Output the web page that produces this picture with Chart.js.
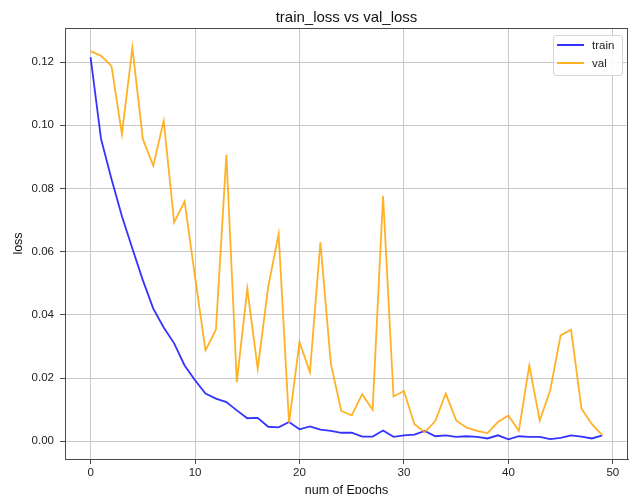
<!DOCTYPE html>
<html>
<head>
<meta charset="utf-8">
<script src="https://cdn.jsdelivr.net/npm/chart.js@4"></script>
<style>
  body { margin: 0; overflow: hidden; background: #fff; font-family: "Liberation Sans", Arial, sans-serif; }
  #wrap { position: relative; width: 630px; height: 500px; }
  #legend { position: absolute; left: 553px; top: 35px; width: 68px; height: 39px;
    border: 1px solid #d6d6d6; border-radius: 3px; background: rgba(255,255,255,0.85);
    font-size: 11.5px; color: #222; }
  #legend .row { position: absolute; left: 0; height: 14px; }
  #legend .sw { position: absolute; left: 3px; top: 6px; width: 27px; height: 2px; }
  #legend .lb { position: absolute; left: 38px; top: 0; line-height: 14px; }
</style>
</head>
<body>
<div id="wrap">
  <canvas id="lossChart"></canvas>
  <div id="legend">
    <div class="row" style="top:2px"><div class="sw" style="background:rgba(0,0,255,0.8)"></div><div class="lb">train</div></div>
    <div class="row" style="top:20px"><div class="sw" style="background:rgba(255,165,0,0.85)"></div><div class="lb">val</div></div>
  </div>
</div>
<script>
document.addEventListener("DOMContentLoaded", function () {

  // data
  const epochs = [0, 1, 2, 3, 4, 5, 6, 7, 8, 9, 10, 11, 12, 13, 14, 15, 16, 17, 18, 19,
    20, 21, 22, 23, 24, 25, 26, 27, 28, 29, 30, 31, 32, 33, 34, 35, 36, 37, 38, 39,
    40, 41, 42, 43, 44, 45, 46, 47, 48, 49];

  const trainLoss = [0.1215, 0.0957, 0.083, 0.0712, 0.061, 0.051, 0.042, 0.036, 0.031, 0.024,
    0.0193, 0.0151, 0.0135, 0.0124, 0.0098, 0.0073, 0.0074, 0.0046, 0.0044, 0.0061,
    0.0038, 0.0047, 0.0037, 0.0033, 0.0027, 0.0027, 0.0015, 0.0015, 0.0034, 0.0014,
    0.0019, 0.0021, 0.0033, 0.0016, 0.0019, 0.0014, 0.0016, 0.0014, 0.0009, 0.0019,
    0.0006, 0.0016, 0.0014, 0.0014, 0.0007, 0.0011, 0.0019, 0.0015, 0.0009, 0.0019];

  const valLoss = [0.1235, 0.122, 0.1188, 0.0972, 0.1246, 0.0957, 0.0872, 0.1014, 0.0693, 0.0759,
    0.052, 0.0288, 0.0353, 0.0907, 0.0187, 0.0483, 0.023, 0.0488, 0.0656, 0.0058,
    0.0314, 0.0219, 0.063, 0.0246, 0.0096, 0.0082, 0.0149, 0.0100, 0.0777, 0.0142,
    0.0159, 0.0054, 0.0029, 0.0064, 0.0151, 0.0066, 0.0043, 0.0033, 0.0026, 0.0061,
    0.0082, 0.0033, 0.024, 0.0066, 0.0161, 0.0335, 0.0353, 0.0103, 0.0054, 0.0019];

  const xTicks = [0, 10, 20, 30, 40, 50];
  const yTicks = [0, 0.02, 0.04, 0.06, 0.08, 0.10, 0.12];

  const gridColor = '#c8c8c8';
  const spineColor = '#4a4a4a';
  const fam = '"Liberation Sans", Arial, sans-serif';
  const tickFont = { family: fam, size: 11.5 };
  const labelFont = { family: fam, size: 12.5 };

  // draws top/right spines like matplotlib
  const frame = {
    id: 'frame',
    afterDraw(chart) {
      const a = chart.chartArea, ctx = chart.ctx;
      ctx.save();
      ctx.strokeStyle = spineColor;
      ctx.lineWidth = 1;
      ctx.strokeRect(Math.round(a.left) + 0.5, Math.round(a.top) + 0.5,
        Math.round(a.right - a.left) - 1, Math.round(a.bottom - a.top));
      ctx.restore();
    }
  };

  const ctx = document.getElementById('lossChart');
  const lossChart = new Chart(ctx, {
    type: 'line',
    data: {
      labels: epochs,
      datasets: [{
        label: 'train',
        data: trainLoss,
        borderColor: 'rgba(0,0,255,0.8)',
        borderWidth: 1.8,
        pointRadius: 0,
        tension: 0,
        order: 1
      }, {
        label: 'val',
        data: valLoss,
        borderColor: 'rgba(255,165,0,0.85)',
        borderWidth: 1.8,
        pointRadius: 0,
        tension: 0,
        order: 0
      }]
    },
    options: {
      responsive: true,
      maintainAspectRatio: false,
      animation: false,
      layout: { padding: { left: 0, right: 2, top: 0, bottom: 0 } },
      plugins: {
        legend: { display: false },
        tooltip: { enabled: false },
        title: {
          display: true,
          text: 'train_loss vs val_loss',
          fullSize: false,
          color: '#111',
          font: { family: fam, size: 15, weight: 'normal' },
          padding: { top: 8.5, bottom: 1.5 }
        }
      },
      scales: {
        x: {
          type: 'linear',
          min: -2.45,
          max: 51.45,
          afterBuildTicks: (scale) => { scale.ticks = xTicks.map(v => ({ value: v })); },
          afterFit: (scale) => { scale.height = 41; },
          ticks: { color: '#222', font: tickFont, padding: 2, maxRotation: 0 },
          grid: { color: gridColor, tickColor: spineColor, tickLength: 5 },
          border: { color: spineColor, width: 1 },
          title: {
            display: true,
            text: 'num of Epochs',
            color: '#111',
            font: labelFont,
            padding: { top: 0, bottom: 1.5 }
          }
        },
        y: {
          type: 'linear',
          min: -0.0056,
          max: 0.1308,
          afterBuildTicks: (scale) => { scale.ticks = yTicks.map(v => ({ value: v })); },
          afterFit: (scale) => { scale.width = 65; },
          ticks: {
            color: '#222',
            font: tickFont,
            padding: 6,
            callback: (v) => v.toFixed(2)
          },
          grid: { color: gridColor, tickColor: spineColor, tickLength: 5 },
          border: { color: spineColor, width: 1 },
          title: {
            display: true,
            text: 'loss',
            color: '#111',
            font: labelFont,
            padding: { top: 11.5, bottom: 0 }
          }
        }
      }
    },
    plugins: [frame]
  });

});
</script>
</body>
</html>
